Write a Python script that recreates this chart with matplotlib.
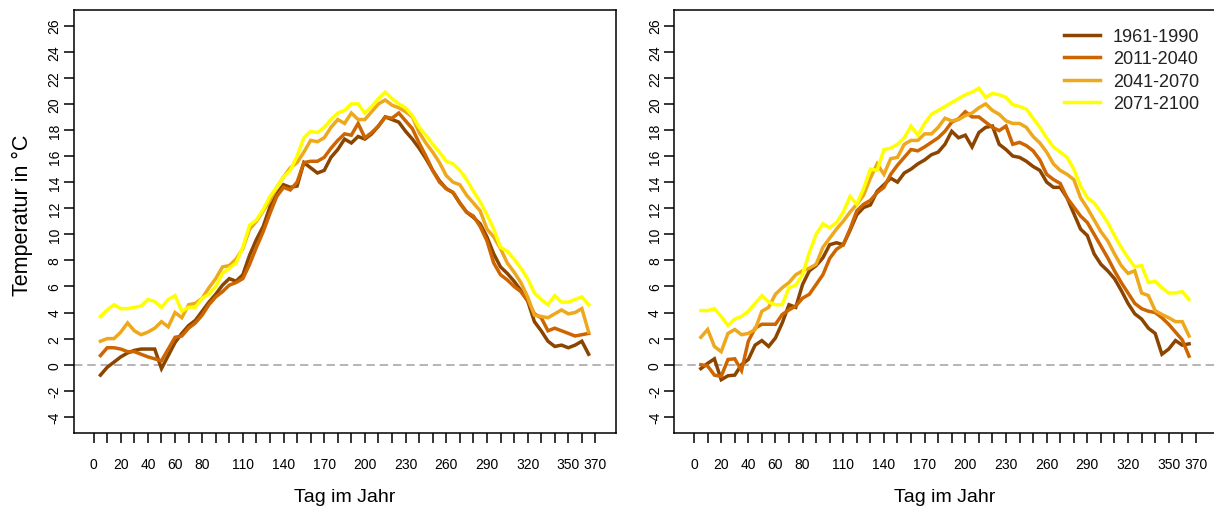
import matplotlib
matplotlib.use("Agg")
import matplotlib.pyplot as plt

plt.rcParams['font.family'] = ['Liberation Sans', 'DejaVu Sans']

# ---- data -------------------------------------------------------------
days = [5, 10, 15, 20, 25, 30, 35, 40, 45, 50, 55, 60, 65, 70, 75, 80, 85, 90,
        95, 100, 105, 110, 115, 120, 125, 130, 135, 140, 145, 150, 155, 160,
        165, 170, 175, 180, 185, 190, 195, 200, 205, 210, 215, 220, 225, 230,
        235, 240, 245, 250, 255, 260, 265, 270, 275, 280, 285, 290, 295, 300,
        305, 310, 315, 320, 325, 330, 335, 340, 345, 350, 355, 360, 365]

series_labels = ["1961-1990", "2011-2040", "2041-2070", "2071-2100"]
series_colors = ["#8B4500", "#CD6600", "#EEA81C", "#FFFF00"]

left_1961 = [-0.8, -0.2, 0.2, 0.6, 0.9, 1.1, 1.2, 1.2, 1.2, -0.3, 0.7, 1.7, 2.4, 3.0,
             3.4, 4.1, 4.8, 5.4, 6.1, 6.6, 6.4, 6.9, 8.4, 9.6, 10.6, 12.1, 13.1, 13.8,
             13.6, 13.7, 15.5, 15.1, 14.7, 14.9, 15.9, 16.5, 17.3, 17.0, 17.5, 17.3,
             17.7, 18.3, 19.0, 18.8, 18.6, 17.9, 17.3, 16.6, 15.8, 14.9, 14.1, 13.5,
             13.2, 12.4, 11.7, 11.3, 10.8, 9.8, 8.5, 7.5, 7.0, 6.4, 5.7, 4.9, 3.3,
             2.6, 1.8, 1.4, 1.5, 1.3, 1.5, 1.8, 0.8]
left_2011 = [0.7, 1.3, 1.3, 1.2, 1.0, 1.0, 0.8, 0.6, 0.45, 0.3, 1.2, 2.1, 2.2, 2.8,
             3.2, 3.8, 4.6, 5.2, 5.6, 6.1, 6.3, 6.6, 7.7, 9.0, 10.2, 11.6, 12.9, 13.6,
             13.4, 14.0, 15.5, 15.6, 15.6, 15.9, 16.6, 17.2, 17.7, 17.6, 18.5, 17.4,
             17.8, 18.3, 19.0, 18.9, 19.3, 18.7, 18.1, 17.0, 16.0, 14.9, 14.0, 13.5,
             13.2, 12.4, 11.7, 11.4, 10.6, 9.5, 7.8, 6.9, 6.5, 6.0, 5.6, 4.9, 3.9,
             3.6, 2.6, 2.8, 2.6, 2.4, 2.2, 2.3, 2.4]
left_2041 = [1.8, 2.0, 2.0, 2.5, 3.2, 2.6, 2.3, 2.5, 2.8, 3.3, 2.9, 4.0, 3.6, 4.6,
             4.7, 5.1, 5.9, 6.6, 7.5, 7.6, 8.1, 8.9, 10.4, 11.0, 11.8, 12.6, 13.6,
             14.4, 15.1, 15.5, 16.3, 17.2, 17.1, 17.4, 18.2, 18.8, 18.5, 19.3, 18.8,
             18.8, 19.4, 20.0, 20.3, 19.9, 19.7, 19.4, 19.0, 17.8, 17.0, 16.3, 15.5,
             14.5, 14.0, 13.8, 13.0, 12.4, 11.8, 10.4, 9.8, 8.9, 7.8, 7.1, 6.3, 5.2,
             3.8, 3.7, 3.6, 3.9, 4.2, 3.9, 4.0, 4.3, 2.5]
left_2071 = [3.7, 4.2, 4.6, 4.3, 4.3, 4.4, 4.5, 5.0, 4.85, 4.4, 5.0, 5.3, 4.1, 4.4,
             4.4, 5.1, 5.4, 6.0, 7.0, 7.4, 7.8, 9.0, 10.7, 11.1, 11.9, 12.9, 13.6,
             14.4, 14.9, 16.0, 17.4, 17.9, 17.8, 18.2, 18.8, 19.3, 19.5, 20.0, 20.0,
             19.3, 19.8, 20.4, 20.9, 20.4, 20.0, 19.7, 19.1, 18.2, 17.6, 16.9, 16.3,
             15.6, 15.4, 14.9, 14.2, 13.3, 12.5, 11.5, 10.4, 9.0, 8.7, 8.1, 7.4, 6.6,
             5.5, 5.0, 4.6, 5.3, 4.8, 4.8, 5.0, 5.2, 4.6]

right_1961 = [-0.3, 0.1, 0.45, -1.15, -0.85, -0.8, 0.0, 0.4, 1.5, 1.85, 1.4, 2.05,
              3.2, 4.6, 4.4, 6.15, 7.2, 7.6, 8.2, 9.2, 9.35, 9.2, 10.3, 11.5, 12.05,
              12.25, 13.3, 13.8, 14.3, 14.0, 14.7, 15.0, 15.4, 15.7, 16.1, 16.3, 16.9,
              17.9, 17.4, 17.6, 16.7, 17.8, 18.2, 18.3, 16.9, 16.5, 16.0, 15.9, 15.6,
              15.2, 14.9, 14.0, 13.6, 13.6, 12.8, 11.6, 10.4, 9.9, 8.5, 7.7, 7.2, 6.6,
              5.7, 4.7, 3.9, 3.5, 2.8, 2.4, 0.8, 1.2, 1.85, 1.5, 1.6]
right_2011 = [0.0, -0.1, -0.8, -0.9, 0.4, 0.45, -0.45, 1.8, 2.8, 3.1, 3.1, 3.1, 3.85,
              4.2, 4.5, 5.1, 5.4, 6.15, 6.9, 8.15, 8.85, 9.2, 10.4, 11.8, 12.3, 12.6,
              13.2, 13.6, 14.6, 15.3, 15.9, 16.5, 16.4, 16.7, 17.05, 17.4, 17.9, 18.6,
              18.85, 19.4, 19.0, 19.0, 18.6, 18.2, 17.95, 18.3, 16.9, 17.05, 16.8,
              16.4, 15.7, 14.6, 14.2, 13.9, 12.8, 12.1, 11.4, 10.9, 10.0, 9.1, 8.2,
              7.2, 6.3, 5.5, 4.7, 4.3, 4.1, 4.0, 3.6, 3.1, 2.5, 1.9, 0.65]
right_2041 = [2.1, 2.7, 1.4, 1.0, 2.4, 2.7, 2.3, 2.4, 2.7, 4.1, 4.4, 5.4, 5.9, 6.3,
              6.9, 7.2, 7.4, 7.7, 9.0, 9.7, 10.4, 11.0, 11.7, 12.3, 13.0, 14.3, 15.4,
              14.6, 15.8, 15.9, 16.9, 17.2, 17.2, 17.7, 17.7, 18.2, 18.9, 18.7, 18.8,
              19.1, 19.3, 19.7, 20.0, 19.5, 19.2, 18.7, 18.5, 18.5, 18.2, 17.5, 17.0,
              16.3, 15.4, 14.9, 14.6, 14.2, 12.8, 12.0, 11.1, 10.2, 9.5, 8.5, 7.6,
              7.0, 7.2, 5.5, 5.3, 4.15, 3.85, 3.6, 3.3, 3.3, 2.2]
right_2071 = [4.15, 4.15, 4.3, 3.7, 3.0, 3.5, 3.7, 4.1, 4.7, 5.3, 4.8, 4.6, 4.6, 5.9,
              6.1, 6.9, 8.6, 10.0, 10.8, 10.5, 10.9, 11.7, 12.9, 12.3, 13.5, 15.0,
              14.9, 16.5, 16.6, 16.9, 17.4, 18.3, 17.6, 18.5, 19.2, 19.5, 19.8, 20.1,
              20.4, 20.7, 20.9, 21.2, 20.5, 20.8, 20.7, 20.5, 19.95, 19.8, 19.6, 18.9,
              18.2, 17.4, 16.7, 16.3, 15.9, 15.0, 13.7, 12.8, 12.4, 11.7, 10.9, 9.9,
              9.0, 8.2, 7.5, 7.6, 6.3, 6.4, 5.9, 5.5, 5.5, 5.6, 5.0]

x_ticks = [0, 10, 20, 30, 40, 50, 60, 70, 80, 90, 100, 110, 120, 130, 140, 150,
           160, 170, 180, 190, 200, 210, 220, 230, 240, 250, 260, 270, 280, 290,
           300, 310, 320, 330, 340, 350, 360, 370]
x_labeled = [0, 20, 40, 60, 80, 110, 140, 170, 200, 230, 260, 290, 320, 350, 370]
y_ticks = [-4, -2, 0, 2, 4, 6, 8, 10, 12, 14, 16, 18, 20, 22, 24, 26]

x_title = "Tag im Jahr"
y_title = "Temperatur in °C"

# ---- figure -------------------------------------------------------------
W, H = 1214, 510
fig = plt.figure(figsize=(W / 100, H / 100), dpi=100)

panels = [
    (73.6, [left_1961, left_2011, left_2041, left_2071]),
    (674.0, [right_1961, right_2011, right_2041, right_2071]),
]
ax_w = 541.9
ax_bottom_px = 433.5
ax_top_px = 11.0

axes = []
for left_px, data in panels:
    ax = fig.add_axes([left_px / W, (H - ax_bottom_px) / H, ax_w / W,
                       (ax_bottom_px - ax_top_px) / H])
    axes.append(ax)
    ax.axhline(0, color="#A0A0A0", lw=1.1, ls=(0, (5.5, 3.2)), zorder=1)
    for vals, col, lab in zip(data, series_colors, series_labels):
        ax.plot(days, vals, color=col, lw=2.5, label=lab, zorder=3,
                solid_joinstyle="miter")
    ax.set_xlim(-14.8, 384.8)
    ax.set_ylim(-5.2, 27.2)
    ax.set_xticks(x_ticks)
    ax.set_xticklabels([str(t) if t in x_labeled else "" for t in x_ticks])
    ax.set_yticks(y_ticks)
    ax.set_yticklabels([str(t) for t in y_ticks], rotation=90, va="center")
    ax.tick_params(axis="x", direction="out", length=7.5, width=1.1,
                   labelsize=10, pad=10, color="black")
    ax.tick_params(axis="y", direction="out", length=7.2, width=1.1,
                   labelsize=10, pad=1.5, color="black")
    for sp in ax.spines.values():
        sp.set_linewidth(1.1)
        sp.set_color("black")
    cx = (left_px + ax_w / 2) / W
    fig.text(cx, (H - 498) / H, x_title, ha="center", va="center", fontsize=14)

axes[1].spines["right"].set_visible(False)

fig.text(22 / W, (H - 215.5) / H, y_title, rotation=90, ha="center",
         va="center", fontsize=15.5)

leg = axes[1].legend(loc="upper left", bbox_to_anchor=(1064 / W, (H - 29) / H),
                     bbox_transform=fig.transFigure, frameon=False,
                     fontsize=13, handlelength=2.0, handletextpad=0.72,
                     labelspacing=0.30, borderpad=0, borderaxespad=0)
for t in leg.get_texts():
    t.set_color("#222222")

fig.savefig("out.png", dpi=100)
